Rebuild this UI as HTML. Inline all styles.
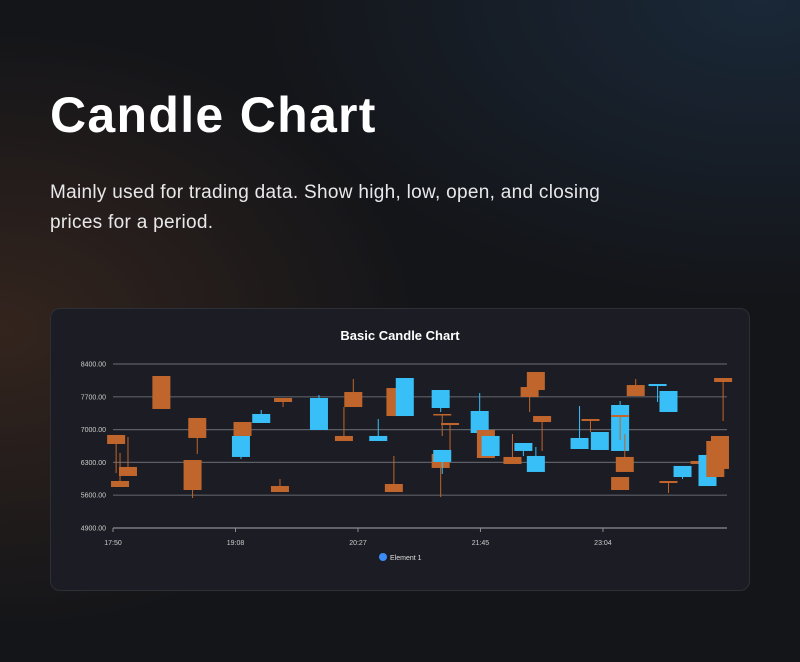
<!DOCTYPE html>
<html><head><meta charset="utf-8"><style>
html,body{margin:0;padding:0}
body{width:800px;height:662px;overflow:hidden;font-family:"Liberation Sans",sans-serif;
background:radial-gradient(ellipse 420px 300px at 0px 330px,rgba(90,55,35,.45),transparent),radial-gradient(ellipse 500px 300px at 760px 0px,rgba(30,55,80,.55),transparent),#141519;position:relative;color:#fff}
h1{position:absolute;left:50px;top:86px;margin:0;font-size:50px;font-weight:bold;letter-spacing:1.3px}
p{position:absolute;left:50px;top:178px;margin:0;font-size:19px;line-height:30px;color:#e8e8ea;width:552px;letter-spacing:.3px}
#card{position:absolute;left:50px;top:308px;width:698px;height:281px;background:#1c1d24;border:1px solid #2d2f37;border-radius:10px}
</style></head><body>
<h1>Candle Chart</h1>
<p>Mainly used for trading data. Show high, low, open, and closing prices for a period.</p>
<div id="card"></div>
<svg id="chart" width="800" height="662" style="position:absolute;left:0;top:0" xmlns="http://www.w3.org/2000/svg">
<text x="400" y="340" text-anchor="middle" fill="#fff" font-size="13" font-weight="bold">Basic Candle Chart</text>
<g id="grid"></g><g id="candles"></g><g id="xaxis"></g>
<circle cx="383" cy="557" r="4" fill="#3b8cf6"/>
<text x="390" y="560" fill="#ddd" font-size="7">Element 1</text>
</svg>
<script>
const times=[2,4.5,9.6,31,51,54,82,83,95,107,109,132,148,154,170,180,181,187,210,211,216,210,211,235,239,242,256,263,271,267,271,275,299,306,312,325,325,328,325,335,349,356,356,365,376,381,386,389,391];
const opens=[6885,5903,6202,8144,6351,7248,6416,7162,7141,5796,7674,6992,6864,7802,6757,5839,7887,7290,7461,7333,7141,6480,6309,6928,6992,6437,6416,6544,6096,7909,8229,7290,6586,7226,6565,6544,7312,6416,5988,7951,7930,7376,5903,5988,6330,5796,6757,6864,8101];
const closes=[6693,5775,6010,7440,5711,6821,6864,6864,7333,5668,7589,7674,6757,7482,6864,5668,7290,8101,7845,7312,7098,6181,6565,7397,6394,6864,6266,6714,6437,7696,7845,7162,6821,7184,6949,7525,7269,6096,5711,7717,7973,7824,5860,6224,6266,6458,5988,6160,8016];
const highs=[6885,6501,6842,8144,6351,7248,6864,7162,7418,5946,7674,7738,7482,8080,7226,6437,7887,8101,7845,7333,7141,6480,6565,7781,6992,6864,6906,6714,6629,7909,8229,7290,7504,7226,6949,7610,7312,6906,5988,8080,7973,7824,5903,6224,6330,6458,6757,6864,8101];
const lows=[6074,5775,6010,7440,5540,6480,6373,6864,7141,5668,7482,6992,6757,7482,6757,5668,7290,7290,7376,6864,6565,5561,6053,6928,6394,6437,6266,6437,6096,7376,7845,6544,6586,6949,6565,6544,6778,6096,5711,7717,7589,7376,5647,5946,6266,5796,5988,6160,7184];
const yTicks=[4900,5600,6300,7000,7700,8400];
const xTickVals=[0,78.5,157,235.5,314];
const xTickLabels=["17:50","19:08","20:27","21:45","23:04"];
const X0=113,X1=727,Y0=528,Y1=364,TMAX=393.5,VMIN=4900,VMAX=8400;
const xs=t=>X0+t/TMAX*(X1-X0);
const ys=v=>Y0-(v-VMIN)/(VMAX-VMIN)*(Y0-Y1);
const NS="http://www.w3.org/2000/svg";
function mk(tag,attrs,parent){const e=document.createElementNS(NS,tag);for(const k in attrs)e.setAttribute(k,attrs[k]);parent.appendChild(e);return e;}
const grid=document.getElementById('grid');
yTicks.forEach(v=>{
  const l=mk('line',{x1:X0,x2:X1,y1:ys(v),y2:ys(v),stroke:v===VMIN?'#8a8c94':'#5d5f66','stroke-width':1.2},grid);
  
  
  const t=mk('text',{x:106,y:ys(v)+2.5,'text-anchor':'end',fill:'#ccc','font-size':7},grid);
  t.textContent=v.toFixed(2);
  
  
});
const xa=document.getElementById('xaxis');
xTickVals.forEach((t,i)=>{
  const l=mk('line',{x1:xs(t),x2:xs(t),y1:Y0,y2:Y0+4,stroke:'#8a8c94'},xa);
  
  
  const tx=mk('text',{x:xs(t),y:Y0+17,'text-anchor':'middle',fill:'#ccc','font-size':7},xa);
  tx.textContent=xTickLabels[i];
  
  
});
const cg=document.getElementById('candles');
times.forEach((t,i)=>{
  const up=closes[i]>=opens[i];const col=up?'#38bff8':'#c0652b';
  const g=mk('g',{},cg);
  
  
  const cx=xs(t);
  mk('line',{x1:cx,x2:cx,y1:ys(highs[i]),y2:ys(lows[i]),stroke:col,'stroke-width':1},g);
  const top=ys(Math.max(opens[i],closes[i])),bot=ys(Math.min(opens[i],closes[i]));
  mk('rect',{x:cx-9,y:top,width:18,height:Math.max(1.5,bot-top),fill:col},g);
});
</script>
</body></html>
